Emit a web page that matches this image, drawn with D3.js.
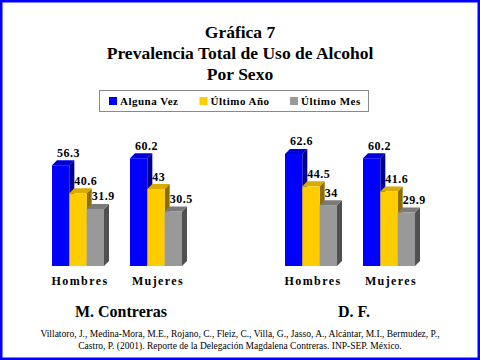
<!DOCTYPE html>
<html><head><meta charset="utf-8">
<script src="https://cdn.jsdelivr.net/npm/d3@7"></script>
<style>
html,body{margin:0;padding:0;background:#fff;}
svg{display:block;}
</style></head>
<body>
<script>
const titleLines = ["Gráfica 7", "Prevalencia Total de Uso de Alcohol", "Por Sexo"];
const panels = ["M. Contreras", "D. F."];
const groups = ["Hombres", "Mujeres"];
const series = ["Alguna Vez", "Último Año", "Último Mes"];
const mcValues = [[56.3, 40.6, 31.9], [60.2, 43, 30.5]];
const dfValues = [[62.6, 44.5, 34], [60.2, 41.6, 29.9]];
const valueLabels = {"M. Contreras": [["56.3","40.6","31.9"],["60.2","43","30.5"]], "D. F.": [["62.6","44.5","34"],["60.2","41.6","29.9"]]};
const citation = ["Villatoro, J., Medina-Mora, M.E., Rojano, C., Fleiz, C., Villa, G., Jasso, A., Alcántar, M.I., Bermudez, P.,",
                  "Castro, P. (2001). Reporte de la Delegación Magdalena Contreras. INP-SEP. México."];

const FONT = "Liberation Serif, DejaVu Serif, serif";
const colors = {front: ["#0000ff", "#ffcc00", "#999999"], top: ["#0000d8", "#d9aa00", "#7a7a7a"], side: ["#000090", "#8c6e00", "#505050"]};
const W = 480, H = 360, depth = 5;
const svg = d3.select("body").append("svg").attr("width", W).attr("height", H);

svg.append("rect").attr("x", 1).attr("y", 1).attr("width", W - 2).attr("height", H - 2)
  .attr("fill", "#fff").attr("stroke", "#0000ff").attr("stroke-width", 3);

svg.append("g").selectAll("text").data(titleLines).join("text")
  .attr("x", 240).attr("y", (d, i) => 38 + i * 21)
  .attr("text-anchor", "middle").attr("font-size", 17.5).attr("font-weight", "bold").attr("fill", "#000")
  .text(d => d);

const lg = svg.append("g");
lg.append("rect").attr("x", 99.5).attr("y", 90.5).attr("width", 269).attr("height", 21)
  .attr("fill", "#fff").attr("stroke", "#8a8a8a").attr("stroke-width", 1);
const legendX = d3.scalePoint().domain(series).range([109, 290]);
const li = lg.selectAll("g.li").data(series).join("g").attr("class", "li")
  .attr("transform", d => `translate(${legendX(d)},0)`);
li.append("rect").attr("x", 0).attr("y", 97).attr("width", 8).attr("height", 8)
  .attr("fill", (d, i) => colors.front[i]);
li.append("text").attr("x", 11).attr("y", 104.5).attr("font-size", 11).attr("font-weight", "bold")
  .attr("letter-spacing", 0.5).text(d => d);

const y = d3.scaleLinear().domain([0, 100]).range([266, 87]);
const panelX = d3.scalePoint().domain(panels).range([52, 285]);
const groupX = d3.scaleBand().domain(groups).range([0, 130]).paddingInner(1/3);
const seriesX = d3.scaleBand().domain(series).range([0, groupX.bandwidth()]);
const dataByPanel = {"M. Contreras": mcValues, "D. F.": dfValues};

panels.forEach(p => {
  const pg = svg.append("g").attr("transform", `translate(${panelX(p)},0)`);
  groups.forEach((g, gi) => {
    const gg = pg.append("g").attr("transform", `translate(${groupX(g)},0)`);
    const bars = series.map((s, si) => ({s, si, v: dataByPanel[p][gi][si], lab: valueLabels[p][gi][si]}));
    const bw = seriesX.bandwidth();
    bars.forEach(b => {
      const x0 = seriesX(b.s), yt = y(b.v), yb = y(0);
      gg.append("path").attr("fill", colors.side[b.si])
        .attr("d", `M${x0 + bw},${yt} L${x0 + bw + depth},${yt - depth} L${x0 + bw + depth},${yb - depth} L${x0 + bw},${yb} Z`);
      gg.append("path").attr("fill", colors.top[b.si])
        .attr("d", `M${x0},${yt} L${x0 + depth},${yt - depth} L${x0 + bw + depth},${yt - depth} L${x0 + bw},${yt} Z`);
      gg.append("rect").attr("x", x0).attr("y", yt).attr("width", bw).attr("height", yb - yt)
        .attr("fill", colors.front[b.si]);
    });
    bars.forEach(b => {
      gg.append("text").attr("x", seriesX(b.s) + 5).attr("y", y(b.v) - depth - 3.5)
        .attr("font-size", 12).attr("font-weight", "bold").attr("letter-spacing", 0.5)
        .text(b.lab);
    });
    gg.append("text").attr("x", groupX.bandwidth() / 2 + 2).attr("y", 285)
      .attr("text-anchor", "middle").attr("font-size", 12).attr("font-weight", "bold")
      .attr("letter-spacing", 1.4).text(g);
  });
  pg.append("text").attr("x", 69).attr("y", 316.5).attr("text-anchor", "middle")
    .attr("font-size", 16).attr("font-weight", "bold").text(p);
});

svg.append("g").selectAll("text").data(citation).join("text")
  .attr("x", 240).attr("y", (d, i) => 337 + i * 12).attr("text-anchor", "middle")
  .attr("font-size", 9.5).attr("fill", "#000").text(d => d);

svg.selectAll("text").attr("font-family", FONT).style("font-family", FONT);
</script>
</body></html>
